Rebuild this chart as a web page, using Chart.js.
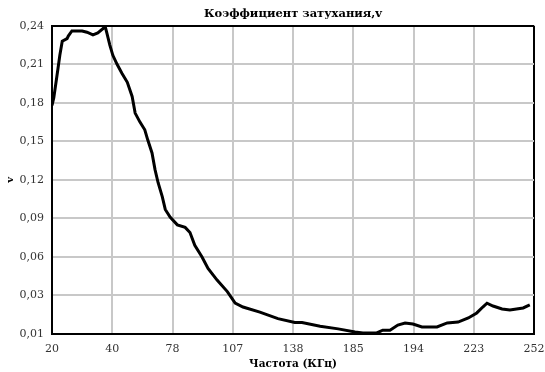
<!DOCTYPE html>
<html>
<head>
<meta charset="utf-8">
<script src="https://cdn.jsdelivr.net/npm/chart.js@4/dist/chart.umd.min.js"></script>
<style>
  html, body { margin: 0; padding: 0; background: #fff; }
  #wrap { width: 545px; height: 372px; position: relative; }
</style>
</head>
<body>
<div id="wrap"><canvas id="chart"></canvas></div>
<script>
// Tick labels (the axes are evenly spaced, labels are not)
const freqLabels = ['20', '40', '78', '107', '138', '185', '194', '223', '252'];
const vLabels = ['0,01', '0,03', '0,06', '0,09', '0,12', '0,15', '0,18', '0,21', '0,24'];

// Curve, x in grid steps (0 = "20", 8 = "252"), y on the v scale
const xPos = [0, 0.03, 0.10, 0.13, 0.17, 0.25, 0.27, 0.33, 0.50, 0.58, 0.68, 0.76, 0.85, 0.88,
    0.91, 0.96, 1.01, 1.08, 1.16, 1.25, 1.33, 1.38, 1.46, 1.54, 1.59, 1.66, 1.71, 1.76, 1.83,
    1.88, 1.96, 2.08, 2.21, 2.29, 2.37, 2.49, 2.59, 2.74, 2.91, 3.04, 3.17, 3.45, 3.75, 4.03,
    4.15, 4.45, 4.75, 5.03, 5.16, 5.39, 5.49, 5.61, 5.74, 5.86, 5.99, 6.14, 6.39, 6.56, 6.74,
    6.91, 7.05, 7.15, 7.22, 7.32, 7.47, 7.60, 7.82, 7.93];
const vValues = [0.178, 0.184, 0.207, 0.217, 0.228, 0.230, 0.232, 0.236, 0.236, 0.235, 0.233,
    0.2345, 0.238, 0.240, 0.2345, 0.225, 0.217, 0.210, 0.203, 0.196, 0.185, 0.172, 0.165, 0.159,
    0.151, 0.141, 0.128, 0.118, 0.107, 0.097, 0.091, 0.085, 0.083, 0.079, 0.069, 0.060, 0.051,
    0.042, 0.033, 0.024, 0.021, 0.017, 0.012, 0.009, 0.009, 0.006, 0.004, 0.0016, 0.0008, 0.0008,
    0.003, 0.003, 0.007, 0.0086, 0.0078, 0.0055, 0.0055, 0.0086, 0.0093, 0.0125, 0.0164, 0.021,
    0.024, 0.0218, 0.0195, 0.0187, 0.0203, 0.0226];

const points = xPos.map((x, i) => ({ x: x, y: vValues[i] }));

const serif = "'DejaVu Serif', 'Liberation Serif', serif";

function edgeColor(ctx, last) {
    return (ctx.index === 0 || ctx.index === last) ? '#000' : '#c8c8c8';
}

const ctx = document.getElementById('chart').getContext('2d');
new Chart(ctx, {
    type: 'line',
    data: {
        datasets: [{
            data: points,
            borderColor: '#000',
            borderWidth: 3,
            pointRadius: 0,
            tension: 0,
            fill: false
        }]
    },
    options: {
        responsive: true,
        maintainAspectRatio: false,
        animation: false,
        layout: { padding: { top: 0, right: 11, left: 0, bottom: 0 } },
        plugins: {
            legend: { display: false },
            tooltip: { enabled: false },
            title: {
                display: true,
                fullSize: false,
                text: 'Коэффициент затухания,v',
                color: '#000',
                font: { family: serif, size: 11.5, weight: 'bold' },
                padding: { top: 7, bottom: 5 }
            }
        },
        scales: {
            x: {
                type: 'linear',
                min: 0,
                max: 8,
                ticks: {
                    stepSize: 1,
                    color: '#333',
                    padding: 9,
                    maxRotation: 0,
                    font: { family: serif, size: 11 },
                    callback: (v, i) => freqLabels[i]
                },
                grid: {
                    drawTicks: false,
                    lineWidth: 2,
                    color: c => edgeColor(c, freqLabels.length - 1)
                },
                border: { color: '#000', width: 2 },
                title: {
                    display: true,
                    text: 'Частота (КГц)',
                    color: '#000',
                    font: { family: serif, size: 10.5, weight: 'bold' },
                    padding: { top: 0, bottom: 1 }
                },
                afterFit: s => { s.height = 38; s.paddingLeft = 0; s.paddingRight = 0; }
            },
            y: {
                type: 'linear',
                min: 0,
                max: 0.24,
                ticks: {
                    stepSize: 0.03,
                    color: '#333',
                    padding: 8,
                    font: { family: serif, size: 11 },
                    callback: (v, i) => vLabels[i]
                },
                grid: {
                    drawTicks: false,
                    lineWidth: 2,
                    color: c => edgeColor(c, vLabels.length - 1)
                },
                border: { color: '#000', width: 2 },
                title: {
                    display: true,
                    text: 'v',
                    color: '#000',
                    font: { family: serif, size: 10, weight: 'bold' },
                    padding: { top: 4, bottom: 0 }
                },
                afterFit: s => { s.width = 52; s.paddingTop = 0; s.paddingBottom = 0; }
            }
        }
    }
});
</script>
</body>
</html>
